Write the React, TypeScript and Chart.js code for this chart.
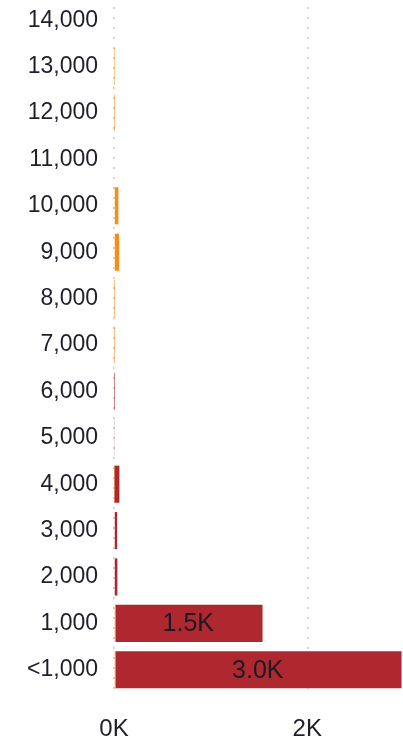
import React, { useEffect, useRef } from "react";
import { Chart, registerables } from "chart.js";

Chart.register(...registerables);

const categories = [
  "14,000", "13,000", "12,000", "11,000", "10,000", "9,000", "8,000",
  "7,000", "6,000", "5,000", "4,000", "3,000", "2,000", "1,000", "<1,000",
];
const orangeValues = [0, 3, 2, 0, 45, 52, 2, 2, 0, 0, 4, 0, 0, 15, 15];
const redValues = [0, 0, 0, 0, 0, 0, 0, 0, 2, 6, 52, 32, 35, 1522, 2960];
const xTickValues = [0, 2000];
const xMax = 2980;

const FONT = "'Liberation Sans', Arial, sans-serif";

export default function App() {
  const ref = useRef<HTMLCanvasElement | null>(null);
  useEffect(() => {
    if (!ref.current) return;
    const labelPlugin = {
      id: "totals",
      afterDatasetsDraw(chart: any) {
        const { ctx, scales } = chart;
        const xs = scales.x;
        const ys = scales.y;
        ctx.save();
        ctx.font = `25px ${FONT}`;
        ctx.fillStyle = "#1a1a24";
        ctx.textAlign = "center";
        ctx.textBaseline = "middle";
        categories.forEach((_, i) => {
          const total = orangeValues[i] + redValues[i];
          if (total < 500) return;
          const x = (xs.getPixelForValue(0) + xs.getPixelForValue(total)) / 2;
          const y = ys.getPixelForValue(i);
          ctx.fillText((total / 1000).toFixed(1) + "K", x, y + 1);
        });
        ctx.restore();
      },
    };
    const chart = new Chart(ref.current, {
      type: "bar",
      data: {
        labels: categories,
        datasets: [
          {
            label: "A",
            data: orangeValues,
            backgroundColor: "#fb8c17",
            borderWidth: 0,
            categoryPercentage: 0.8,
            barPercentage: 1,
          },
          {
            label: "B",
            data: redValues,
            backgroundColor: "#b0282f",
            borderWidth: 0,
            categoryPercentage: 0.8,
            barPercentage: 1,
          },
        ],
      },
      options: {
        indexAxis: "y",
        animation: false,
        responsive: false,
        maintainAspectRatio: false,
        layout: { padding: { top: 0, right: 1, left: 0, bottom: 0 } },
        plugins: { legend: { display: false }, tooltip: { enabled: false } },
        scales: {
          x: {
            stacked: true,
            min: 0,
            max: xMax,
            afterBuildTicks(scale: any) {
              scale.ticks = xTickValues.map((v) => ({ value: v }));
            },
            afterFit(scale: any) {
              scale.height = 54;
              scale.paddingLeft = 0;
              scale.paddingRight = 0;
            },
            border: { display: false, dash: [2, 8] },
            grid: {
              drawTicks: false,
              color: "#c8c8c8",
              lineWidth: 1.5,
            },
            ticks: {
              padding: 22,
              color: "#1f1f2a",
              font: { family: FONT, size: 24 },
              callback: (v: any) => Number(v) / 1000 + "K",
            },
          },
          y: {
            stacked: true,
            afterFit(scale: any) {
              scale.width = 114;
              scale.paddingTop = 0;
              scale.paddingBottom = 0;
            },
            border: { display: false },
            grid: { display: false, drawTicks: false },
            ticks: {
              padding: 16,
              color: "#1f1f2a",
              font: { family: FONT, size: 23 },
              autoSkip: false,
            },
          },
        },
      },
      plugins: [labelPlugin],
    });
    return () => chart.destroy();
  }, []);
  return (
    <div style={{ position: "fixed", left: 0, top: -3, width: 403, height: 750 }}>
      <canvas ref={ref} width={403} height={750} style={{ display: "block" }} />
    </div>
  );
}
